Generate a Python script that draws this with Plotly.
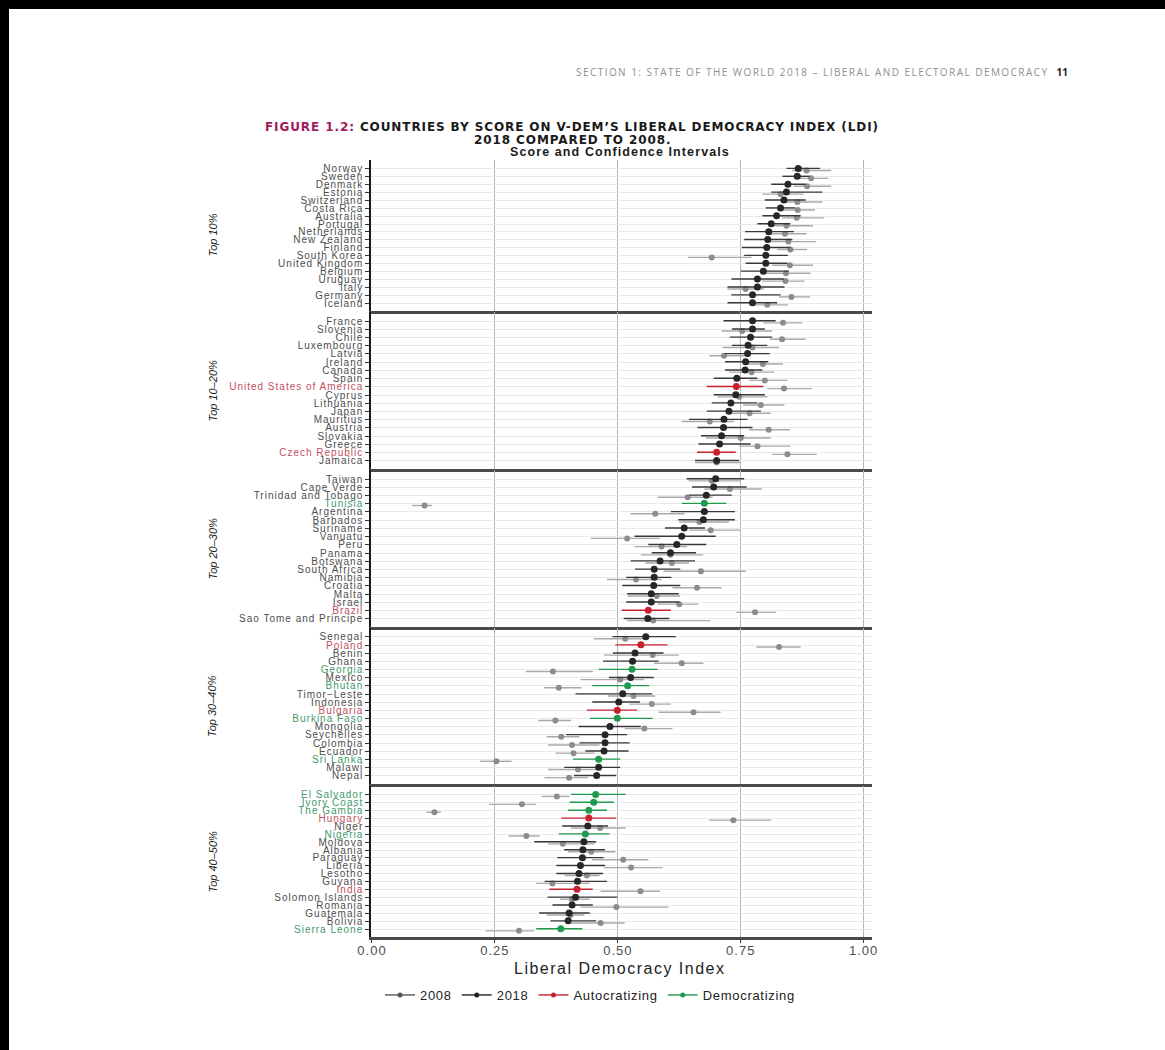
import plotly.graph_objects as go

# ---------------- data ----------------
panel_names = ["Top 10%", "Top 10–20%", "Top 20–30%", "Top 30–40%", "Top 40–50%"]

countries = [
    ["Norway", "Sweden", "Denmark", "Estonia", "Switzerland", "Costa Rica", "Australia", "Portugal",
     "Netherlands", "New Zealand", "Finland", "South Korea", "United Kingdom", "Belgium", "Uruguay",
     "Italy", "Germany", "Iceland"],
    ["France", "Slovenia", "Chile", "Luxembourg", "Latvia", "Ireland", "Canada", "Spain",
     "United States of America", "Cyprus", "Lithuania", "Japan", "Mauritius", "Austria", "Slovakia",
     "Greece", "Czech Republic", "Jamaica"],
    ["Taiwan", "Cape Verde", "Trinidad and Tobago", "Tunisia", "Argentina", "Barbados", "Suriname",
     "Vanuatu", "Peru", "Panama", "Botswana", "South Africa", "Namibia", "Croatia", "Malta", "Israel",
     "Brazil", "Sao Tome and Principe"],
    ["Senegal", "Poland", "Benin", "Ghana", "Georgia", "Mexico", "Bhutan", "Timor−Leste", "Indonesia",
     "Bulgaria", "Burkina Faso", "Mongolia", "Seychelles", "Colombia", "Ecuador", "Sri Lanka", "Malawi",
     "Nepal"],
    ["El Salvador", "Ivory Coast", "The Gambia", "Hungary", "Niger", "Nigeria", "Moldova", "Albania",
     "Paraguay", "Liberia", "Lesotho", "Guyana", "India", "Solomon Islands", "Romania", "Guatemala",
     "Bolivia", "Sierra Leone"],
]

# change status: "A" = autocratizing, "D" = democratizing, "" = none
status = [
    [""] * 18,
    ["", "", "", "", "", "", "", "", "A", "", "", "", "", "", "", "", "A", ""],
    ["", "", "", "D", "", "", "", "", "", "", "", "", "", "", "", "", "A", ""],
    ["", "A", "", "", "D", "", "D", "", "", "A", "D", "", "", "", "", "D", "", ""],
    ["D", "D", "D", "A", "", "D", "", "", "", "", "", "", "A", "", "", "", "", "D"],
]

ldi_2018 = [
    [0.867, 0.865, 0.846, 0.843, 0.838, 0.831, 0.823, 0.812, 0.807, 0.805, 0.803, 0.801, 0.801, 0.796, 0.784, 0.784, 0.774, 0.774],
    [0.774, 0.774, 0.770, 0.765, 0.764, 0.760, 0.759, 0.742, 0.741, 0.740, 0.730, 0.726, 0.716, 0.715, 0.711, 0.707, 0.701, 0.701],
    [0.699, 0.695, 0.680, 0.676, 0.676, 0.674, 0.635, 0.630, 0.620, 0.607, 0.586, 0.574, 0.574, 0.573, 0.568, 0.568, 0.562, 0.561],
    [0.557, 0.547, 0.535, 0.530, 0.529, 0.526, 0.520, 0.510, 0.502, 0.499, 0.499, 0.484, 0.474, 0.474, 0.472, 0.461, 0.461, 0.457],
    [0.455, 0.451, 0.441, 0.441, 0.439, 0.434, 0.431, 0.429, 0.428, 0.424, 0.421, 0.418, 0.417, 0.414, 0.407, 0.401, 0.399, 0.384],
]
lo_2018 = [
    [0.843, 0.835, 0.812, 0.812, 0.799, 0.801, 0.794, 0.784, 0.759, 0.757, 0.752, 0.757, 0.760, 0.750, 0.731, 0.723, 0.731, 0.723],
    [0.715, 0.732, 0.728, 0.732, 0.718, 0.718, 0.718, 0.695, 0.681, 0.695, 0.691, 0.681, 0.645, 0.662, 0.669, 0.664, 0.661, 0.657],
    [0.640, 0.651, 0.645, 0.630, 0.608, 0.623, 0.596, 0.534, 0.562, 0.569, 0.526, 0.535, 0.517, 0.509, 0.519, 0.517, 0.508, 0.512],
    [0.489, 0.495, 0.490, 0.470, 0.461, 0.482, 0.448, 0.414, 0.448, 0.437, 0.443, 0.420, 0.395, 0.422, 0.434, 0.409, 0.391, 0.411],
    [0.405, 0.402, 0.399, 0.385, 0.387, 0.380, 0.330, 0.391, 0.377, 0.375, 0.375, 0.351, 0.361, 0.357, 0.367, 0.340, 0.363, 0.334],
]
hi_2018 = [
    [0.911, 0.890, 0.882, 0.916, 0.882, 0.861, 0.872, 0.851, 0.858, 0.855, 0.851, 0.846, 0.845, 0.848, 0.838, 0.839, 0.831, 0.824],
    [0.821, 0.799, 0.814, 0.804, 0.809, 0.806, 0.794, 0.784, 0.796, 0.799, 0.784, 0.791, 0.764, 0.774, 0.757, 0.770, 0.740, 0.747],
    [0.757, 0.762, 0.732, 0.721, 0.738, 0.738, 0.677, 0.699, 0.680, 0.659, 0.657, 0.627, 0.609, 0.627, 0.624, 0.625, 0.608, 0.605],
    [0.618, 0.601, 0.593, 0.583, 0.581, 0.573, 0.564, 0.570, 0.545, 0.539, 0.571, 0.547, 0.519, 0.524, 0.522, 0.505, 0.505, 0.497],
    [0.516, 0.492, 0.478, 0.497, 0.480, 0.483, 0.456, 0.474, 0.471, 0.474, 0.470, 0.478, 0.449, 0.499, 0.449, 0.443, 0.456, 0.428],
]
ldi_2008 = [
    [0.884, 0.893, 0.885, 0.831, 0.865, 0.866, 0.864, 0.843, 0.840, 0.847, 0.851, 0.691, 0.850, 0.842, 0.841, 0.760, 0.853, 0.804],
    [0.836, 0.753, 0.834, 0.774, 0.716, 0.795, 0.772, 0.799, 0.838, 0.747, 0.791, 0.768, 0.687, 0.807, 0.750, 0.784, 0.845, 0.701],
    [0.691, 0.728, 0.642, 0.107, 0.576, 0.666, 0.689, 0.519, 0.589, 0.607, 0.610, 0.669, 0.537, 0.661, 0.579, 0.625, 0.779, 0.572],
    [0.515, 0.828, 0.571, 0.630, 0.368, 0.505, 0.380, 0.532, 0.569, 0.654, 0.373, 0.554, 0.385, 0.407, 0.410, 0.253, 0.419, 0.401],
    [0.376, 0.305, 0.127, 0.735, 0.464, 0.314, 0.388, 0.446, 0.511, 0.527, 0.437, 0.367, 0.546, 0.407, 0.497, 0.404, 0.465, 0.299],
]
lo_2008 = [
    [0.855, 0.858, 0.858, 0.794, 0.831, 0.831, 0.834, 0.809, 0.804, 0.801, 0.824, 0.643, 0.814, 0.799, 0.793, 0.723, 0.828, 0.780],
    [0.796, 0.711, 0.809, 0.713, 0.686, 0.760, 0.726, 0.767, 0.804, 0.703, 0.755, 0.731, 0.630, 0.767, 0.679, 0.747, 0.814, 0.657],
    [0.644, 0.676, 0.581, 0.081, 0.526, 0.625, 0.645, 0.445, 0.534, 0.547, 0.556, 0.593, 0.478, 0.611, 0.520, 0.581, 0.741, 0.519],
    [0.451, 0.782, 0.472, 0.574, 0.313, 0.424, 0.350, 0.480, 0.523, 0.583, 0.338, 0.514, 0.355, 0.358, 0.373, 0.220, 0.358, 0.351],
    [0.345, 0.238, 0.111, 0.686, 0.405, 0.278, 0.358, 0.399, 0.448, 0.472, 0.392, 0.334, 0.465, 0.382, 0.424, 0.355, 0.405, 0.231],
]
hi_2008 = [
    [0.934, 0.928, 0.934, 0.878, 0.916, 0.901, 0.920, 0.897, 0.884, 0.903, 0.885, 0.772, 0.897, 0.892, 0.880, 0.797, 0.891, 0.846],
    [0.875, 0.814, 0.882, 0.828, 0.764, 0.836, 0.818, 0.845, 0.895, 0.805, 0.839, 0.811, 0.736, 0.850, 0.811, 0.851, 0.905, 0.749],
    [0.750, 0.793, 0.693, 0.122, 0.636, 0.726, 0.750, 0.586, 0.641, 0.674, 0.645, 0.761, 0.589, 0.711, 0.627, 0.664, 0.822, 0.688],
    [0.554, 0.872, 0.624, 0.674, 0.449, 0.554, 0.426, 0.576, 0.608, 0.709, 0.405, 0.611, 0.422, 0.463, 0.453, 0.284, 0.466, 0.439],
    [0.402, 0.333, 0.140, 0.812, 0.516, 0.341, 0.453, 0.495, 0.562, 0.591, 0.463, 0.443, 0.586, 0.443, 0.603, 0.432, 0.514, 0.330],
]

x_ticks = [0.0, 0.25, 0.5, 0.75, 1.0]
x_tick_labels = ["0.00", "0.25", "0.50", "0.75", "1.00"]

# ---------------- styling ----------------
W, H = 1165, 1050
L, R, T, B = 371, 872, 160, 937          # plot area in pixels
panel_px = [(160, 311), (312, 469), (470, 627), (628, 784), (786, 937)]

def px(x):
    return (x - L) / (R - L)

def py(y):
    return (B - y) / (B - T)

def sp(text, ls, color=None):
    style = f"letter-spacing:{ls}px"
    if color:
        style = f"color:{color};" + style
    return f'<span style="{style}">{text}</span>'

C2008, C2008_LINE = "#8c8c8c", "#a9a9a9"
C2018, C2018_LINE = "#262626", "#383838"
CA, CD = "#c8202e", "#1f9a4e"
LABEL_A, LABEL_D = "#c2505c", "#3f9a6c"
DODGE_NEW, DODGE_OLD = -0.04, 0.22
SANS = "Liberation Sans, Arial, sans-serif"

fig = go.Figure()

for p in range(5):
    xa = "x" if p == 0 else f"x{p+1}"
    ya = "y" if p == 0 else f"y{p+1}"
    rows = list(range(len(countries[p])))

    def add(idx, vals, lo, hi, dodge, mcol, lcol, msize):
        if not idx:
            return
        fig.add_trace(go.Scatter(
            x=[vals[i] for i in idx],
            y=[rows[i] + dodge for i in idx],
            mode="markers",
            marker=dict(color=mcol, size=msize),
            error_x=dict(type="data", symmetric=False,
                         array=[hi[i] - vals[i] for i in idx],
                         arrayminus=[vals[i] - lo[i] for i in idx],
                         color=lcol, thickness=1.4, width=0),
            xaxis=xa, yaxis=ya, showlegend=False, hoverinfo="skip"))

    add(rows, ldi_2008[p], lo_2008[p], hi_2008[p], DODGE_OLD, C2008, C2008_LINE, 6)
    st = status[p]
    add([i for i in rows if st[i] == ""], ldi_2018[p], lo_2018[p], hi_2018[p], DODGE_NEW, C2018, C2018_LINE, 7)
    add([i for i in rows if st[i] == "A"], ldi_2018[p], lo_2018[p], hi_2018[p], DODGE_NEW, CA, CA, 7)
    add([i for i in rows if st[i] == "D"], ldi_2018[p], lo_2018[p], hi_2018[p], DODGE_NEW, CD, CD, 7)

    ticktext = []
    for c, s in zip(countries[p], st):
        col = LABEL_A if s == "A" else (LABEL_D if s == "D" else None)
        ticktext.append(sp(c, 1.0, col))

    top, bot = panel_px[p]
    xkey = "xaxis" if p == 0 else f"xaxis{p+1}"
    ykey = "yaxis" if p == 0 else f"yaxis{p+1}"
    last = p == 4
    fig.layout[xkey] = dict(
        domain=[0, 1], anchor=ya, range=[-0.002, 1.017],
        tickvals=x_ticks, ticktext=[sp(t, 1.0) for t in x_tick_labels], showticklabels=last,
        ticks="outside" if last else "", ticklen=3, tickcolor="#333", ticklabelstandoff=-3,
        tickfont=dict(family=SANS, size=13, color="#4d4d4d"),
        showgrid=True, gridcolor="#b5b5b5", gridwidth=1,
        showline=True, linecolor="#4a4a4a", linewidth=2.5, zeroline=False,
        matches=None if p == 0 else "x")
    fig.layout[ykey] = dict(
        domain=[py(bot), py(top)], anchor=xa, range=[17 + 1.0, -1.1],
        tickvals=rows, ticktext=ticktext, ticks="outside", ticklen=4, tickcolor="#333",
        tickfont=dict(family=SANS, size=10, color="#4d4d4d"),
        showgrid=True, gridcolor="#e9e9e9", gridwidth=1,
        showline=True, linecolor="#1a1a1a", linewidth=1.5, zeroline=False)

    fig.add_annotation(
        text=f"<i>{panel_names[p]}</i>", textangle=-90,
        x=px(212), y=py((top + bot) / 2), xref="paper", yref="paper", xanchor="center", yanchor="middle",
        showarrow=False, font=dict(family=SANS, size=11, color="#222"))

# legend entries
for name, mc in [("2008", "#555555"), ("2018", "#222222"), ("Autocratizing", CA), ("Democratizing", CD)]:
    fig.add_trace(go.Scatter(x=[None], y=[None], mode="lines+markers", name=sp(name, 0.7),
                             marker=dict(color=mc, size=5), line=dict(color=mc, width=1.4),
                             xaxis="x5", yaxis="y5", showlegend=True))

ann = [
    dict(text=sp("SECTION 1: STATE OF THE WORLD 2018 – LIBERAL AND ELECTORAL DEMOCRACY  ", 1.45)
              + "<b><span style='color:#222'>11</span></b>",
         x=px(1070), y=py(72), xanchor="right", font=dict(family="Open Sans", size=10, color="#8f8f8f")),
    dict(text="<b>" + sp("FIGURE 1.2:", 0.9, "#a3195b")
              + sp(" COUNTRIES BY SCORE ON V-DEM’S LIBERAL DEMOCRACY INDEX (LDI)", 0.9) + "</b>",
         x=px(572), y=py(127), xanchor="center", font=dict(family="DejaVu Sans", size=12, color="#1a1a1a")),
    dict(text="<b>" + sp("2018 COMPARED TO 2008.", 0.9) + "</b>",
         x=px(572), y=py(140), xanchor="center", font=dict(family="DejaVu Sans", size=12, color="#1a1a1a")),
    dict(text="<b>" + sp("Score and Confidence Intervals", 1.1) + "</b>",
         x=px(620), y=py(152.5), xanchor="center", font=dict(family=SANS, size=12.5, color="#1a1a1a")),
    dict(text=sp("Liberal Democracy Index", 1.5),
         x=px(619), y=py(968), xanchor="center", font=dict(family=SANS, size=16, color="#222")),
]
for a in ann:
    fig.add_annotation(xref="paper", yref="paper", showarrow=False, yanchor="middle", **a)

# page border bands
fig.add_shape(type="rect", xref="paper", yref="paper", x0=px(0), x1=px(W), y0=py(0), y1=py(9),
              fillcolor="black", line_width=0, layer="above")
fig.add_shape(type="rect", xref="paper", yref="paper", x0=px(0), x1=px(9), y0=py(0), y1=py(H),
              fillcolor="black", line_width=0, layer="above")

fig.update_layout(
    width=W, height=H, margin=dict(l=L, r=W - R, t=T, b=H - B, autoexpand=False),
    paper_bgcolor="white", plot_bgcolor="white",
    showlegend=True,
    legend=dict(orientation="h", x=px(590), xanchor="center", y=py(995), yanchor="middle",
                font=dict(family=SANS, size=13, color="#222"),
                itemwidth=30, bgcolor="rgba(0,0,0,0)"),
)

fig.write_html("out.html", config={"displayModeBar": False},
               post_script="document.body.style.margin='0';document.body.style.overflow='hidden';")
